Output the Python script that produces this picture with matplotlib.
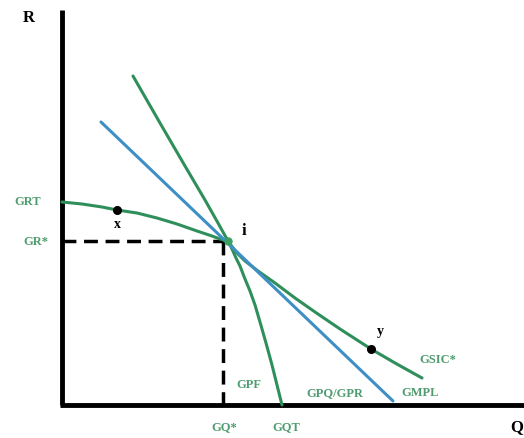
import matplotlib.pyplot as plt

# schematic coordinates, origin at the axis corner
gpf_x = [0, 20, 40, 55, 75, 95, 115, 135, 150, 158, 166,
         170, 174, 178, 183, 188, 193, 198, 204, 210, 215, 220]
gpf_y = [203, 201, 198, 195, 192, 187, 181, 174, 169, 166, 164,
         156, 147, 139, 126, 114, 100, 83, 62, 40, 20, 0]

gsic_x = [71, 98, 123, 143, 156, 166, 174, 183, 196, 213, 233, 253, 278, 309, 333, 360]
gsic_y = [329, 282, 239, 205, 182, 164, 153, 144, 134, 122, 107, 93, 76, 56, 42, 27]

price_x = [39, 331]
price_y = [283, 4]

opt_pt = (166, 164)
pt_x = (55, 195)
pt_y = (309, 56)

green = "#2f8f5b"
blue = "#3d8fc6"
lab_green = "#4f9c70"

fig = plt.figure(figsize=(5.24, 4.38), dpi=100)
ax = fig.add_axes([0, 0, 1, 1])
ax.set_xlim(-62, 462)
ax.set_ylim(-33, 405)
ax.axis("off")

# axes
ax.plot([0, 0], [0, 395], color="black", lw=3.5, solid_capstyle="butt")
ax.plot([-1.5, 462], [0, 0], color="black", lw=3.5, solid_capstyle="butt")

# dashed guides
gx = opt_pt[0] - 5
ax.plot([0, gx], [opt_pt[1], opt_pt[1]], color="black", lw=2.5, dashes=(4, 2.2))
ax.plot([gx, gx], [opt_pt[1], 0], color="black", lw=2.5, dashes=(4, 2.2))

ax.plot(gpf_x, gpf_y, color=green, lw=2.2, solid_capstyle="round", solid_joinstyle="round")
ax.plot(gsic_x, gsic_y, color=green, lw=2.2, solid_capstyle="round", solid_joinstyle="round")
ax.plot(price_x, price_y, color=blue, lw=2.2, solid_capstyle="round")

ax.plot(*opt_pt, "o", color="#3aa060", ms=5)
ax.plot(*pt_x, "o", color="black", ms=5.5)
ax.plot(*pt_y, "o", color="black", ms=5.5)

serif = "Liberation Serif"
ax.text(-33, 387, "R", fontsize=12, fontweight="bold", family=serif, ha="center", va="center")
ax.text(461, -22, "Q", fontsize=12, fontweight="bold", family=serif, ha="right", va="center")
ax.text(55, 180, "x", fontsize=10, fontweight="bold", family=serif, ha="center", va="center")
ax.text(182, 174, "i", fontsize=12, fontweight="bold", family=serif, ha="center", va="center")
ax.text(318, 73, "y", fontsize=10, fontweight="bold", family=serif, ha="center", va="center")

labels = [
    (-34, 203, "GRT"),
    (-26, 163, "GR*"),
    (162, -22, "GQ*"),
    (224, -22, "GQT"),
    (187, 20, "GPF"),
    (273, 12, "GPQ/GPR"),
    (358, 12, "GMPL"),
    (376, 45, "GSIC*"),
]
for lx, ly, txt in labels:
    ax.text(lx, ly, txt, fontsize=9, fontweight="bold", family=serif,
            color=lab_green, ha="center", va="center")

fig.savefig("out.png", dpi=100)
